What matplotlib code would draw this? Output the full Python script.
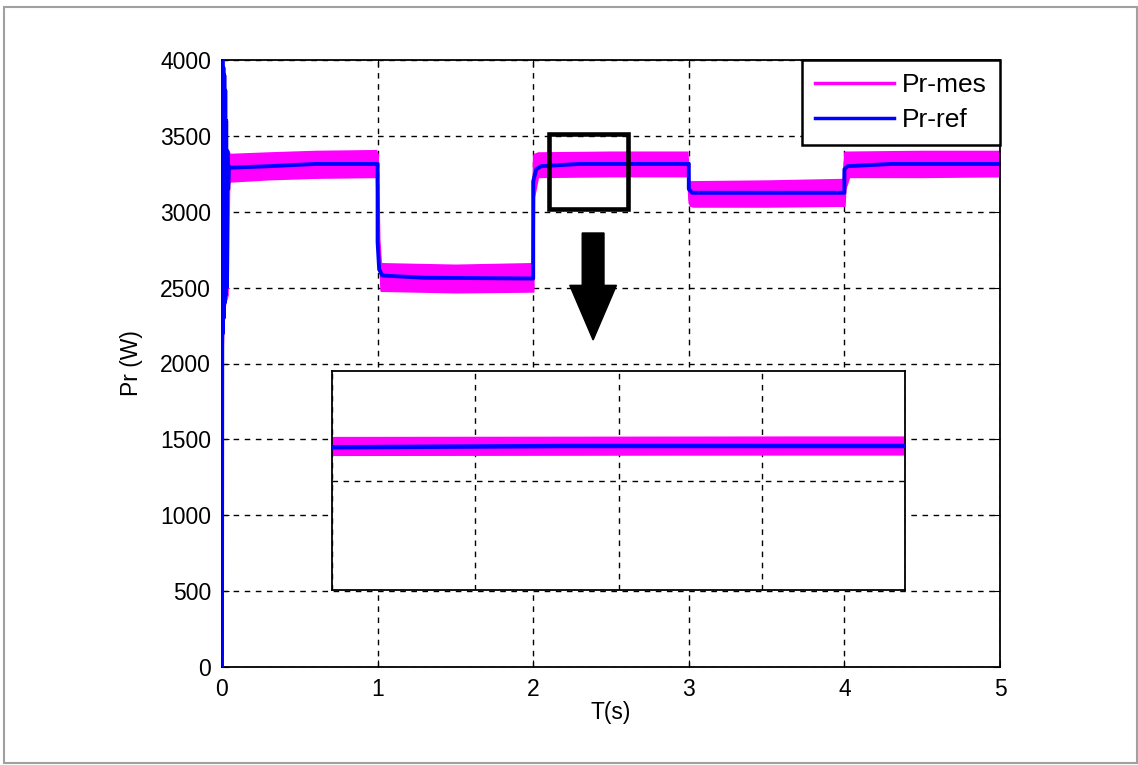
import numpy as np
import matplotlib
matplotlib.use("Agg")
import matplotlib.pyplot as plt
from matplotlib.patches import Rectangle

plt.rcParams['font.family'] = ['Liberation Sans', 'DejaVu Sans']
fs = 16.5

# Pr-ref (blue)
t_ref = [0.0, 0.003, 0.006, 0.009, 0.012, 0.015, 0.018, 0.021, 0.024, 0.027, 0.03,
         0.035, 0.04, 0.045, 0.05, 0.3, 0.6,
         1.0, 1.0, 1.01, 1.03, 1.3, 2.0, 2.0, 2.02, 2.05, 2.3,
         3.0, 3.0, 3.02, 3.3, 4.0, 4.0, 4.02, 4.3, 5.0]
p_ref = [0, 4000, 2200, 3950, 2300, 3900, 2400, 3800, 2450, 3600, 2500,
         3400, 3150, 3300, 3290, 3300, 3315,
         3315, 2800, 2620, 2580, 2565, 2560, 3200, 3280, 3300, 3315,
         3315, 3150, 3125, 3125, 3125, 3280, 3300, 3315, 3315]

# Pr-mes (magenta) noisy band: upper / lower envelope
t_mes = [0.0, 0.004, 0.008, 0.02, 0.035, 0.045, 0.05, 0.3, 0.6, 0.99,
         1.0, 1.01, 1.02, 1.5, 1.99,
         2.0, 2.005, 2.03, 2.5, 2.99,
         3.0, 3.01, 3.03, 3.5, 3.99,
         4.0, 4.005, 4.03, 4.5, 5.0]
p_mes_hi = [0, 2100, 2500, 3000, 3380, 3390, 3380, 3390, 3400, 3405,
            3380, 2820, 2660, 2650, 2660,
            3370, 3380, 3390, 3395, 3395,
            3210, 3200, 3200, 3205, 3215,
            3390, 3395, 3395, 3400, 3400]
p_mes_lo = [0, 2100, 2300, 2400, 2450, 3180, 3200, 3215, 3225, 3230,
            2700, 2700, 2480, 2470, 2475,
            2475, 3100, 3230, 3235, 3235,
            3060, 3040, 3035, 3035, 3040,
            3040, 3150, 3230, 3230, 3235]

zoom_box = [2.1, 3020, 2.61, 3510]   # t0, P0, t1, P1
arrow_xy = [2.385, 2860, 2155]        # x, y start, y tip

W, H = 1138, 765
fig = plt.figure(figsize=(W/100, H/100), dpi=100)
fig.patch.set_facecolor('white')

ax = fig.add_axes([222/W, 1-667/H, (1000-222)/W, (667-60)/H])

def draw(a, lw_ref=2.8):
    a.fill_between(t_mes, p_mes_lo, p_mes_hi, color='#ff00ff', lw=1.2,
                   edgecolor='#ff00ff', zorder=2)
    a.plot(t_ref, p_ref, color='#0000ff', lw=lw_ref, zorder=3)

draw(ax)
l1, = ax.plot([], [], color='#ff00ff', lw=2.5, label='Pr-mes')
l2, = ax.plot([], [], color='#0000ff', lw=2.5, label='Pr-ref')

ax.set_xlim(0, 5)
ax.set_ylim(0, 4000)
ax.set_xticks(np.arange(0, 6, 1))
ax.set_yticks(np.arange(0, 4001, 500))
ax.grid(True, color='k', linestyle=(0, (4, 4)), lw=1)
ax.tick_params(direction='in', length=5, top=True, right=True, labelsize=fs, pad=8)
for s in ax.spines.values():
    s.set_linewidth(1.3)
ax.set_xlabel('T(s)', fontsize=fs, labelpad=0)
ax.set_ylabel('Pr (W)', fontsize=fs, labelpad=12)

leg = ax.legend(handles=[l1, l2], loc='upper right', fontsize=19, fancybox=False,
                edgecolor='k', framealpha=1, borderaxespad=0, handlelength=3.0,
                handletextpad=0.3, labelspacing=0.4, borderpad=0.5)
leg.get_frame().set_linewidth(1.8)

ax.add_patch(Rectangle((zoom_box[0], zoom_box[1]), zoom_box[2]-zoom_box[0],
                       zoom_box[3]-zoom_box[1], fill=False, lw=3.3, ec='k', zorder=5))
ax.arrow(arrow_xy[0], arrow_xy[1], 0, arrow_xy[2]-arrow_xy[1], width=0.14,
         head_width=0.3, head_length=360, length_includes_head=True,
         color='k', zorder=5)

# inset (zoom of the boxed region)
axi = fig.add_axes([332/W, 1-590/H, (905-332)/W, (590-371)/H])
axi.set_facecolor('white')
draw(axi, lw_ref=3.2)
axi.set_xlim(2.1, 2.6)
axi.set_ylim(2000, 4000)
axi.set_xticks(np.linspace(2.1, 2.6, 5))
axi.set_yticks([3000])
axi.grid(True, color='k', linestyle=(0, (4, 4)), lw=1)
axi.tick_params(length=0, labelbottom=False, labelleft=False)
for s in axi.spines.values():
    s.set_linewidth(1.3)

# gray frame around the whole picture
fig.add_artist(Rectangle((4/W, 2/H), (1137-4)/W, (763-7)/H, fill=False,
                         ec='#a0a0a0', lw=1.5, transform=fig.transFigure))

plt.savefig('out.png', dpi=100)
